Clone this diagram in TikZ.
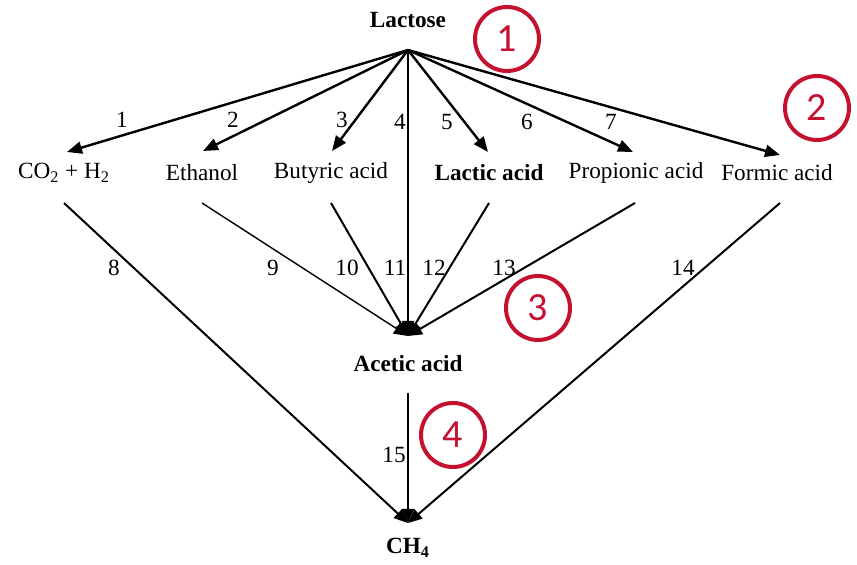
\documentclass[tikz,border=0pt]{standalone}
\usepackage{fontspec}
\setmainfont{Liberation Serif}
\newfontfamily\circfont{Carlito}
\usetikzlibrary{arrows.meta}
\definecolor{circred}{RGB}{197,17,48}
\begin{document}
\begin{tikzpicture}[x=0.5pt,y=-0.5pt,
  txt/.style={inner sep=0pt,font=\fontsize{11.6}{13}\selectfont},
  btxt/.style={inner sep=0pt,font=\fontsize{11.6}{13}\selectfont\bfseries},
  num/.style={inner sep=0pt,font=\fontsize{11.6}{13}\selectfont},
  arr/.style={line width=1.2pt,-{Triangle[length=7.5pt,width=6pt]}},
  arrb/.style={line width=1pt,-{Triangle[length=7pt,width=6pt]}},
  redcirc/.style={draw=circred,line width=2pt,circle,minimum size=32pt,inner sep=0pt,
    text=circred,font=\fontsize{20}{22}\selectfont\circfont}]
\useasboundingbox (0,0) rectangle (857,565);
% top
\node[btxt] (lactose) at (408,20) {Lactose};
\coordinate (apex) at (408,50);
% products
\node[txt] (co2) at (64,173) {CO\textsubscript{2} + H\textsubscript{2}};
\node[txt] (eth) at (202,173) {Ethanol};
\node[txt] (but) at (331,173) {Butyric acid};
\node[btxt] (lac) at (489,173) {Lactic acid};
\node[txt] (pro) at (636,173) {Propionic acid};
\node[txt] (for) at (777,173) {Formic acid};
\node[btxt] (ace) at (408,364) {Acetic acid};
\node[btxt] (ch4) at (408,548) {CH\textsubscript{4}};
% arrow tips
\coordinate (t1) at (67,152);
\coordinate (t2) at (203,151);
\coordinate (t3) at (332,151);
\coordinate (t5) at (488,152);
\coordinate (t6) at (633,152);
\coordinate (t7) at (780,155);
\coordinate (tace) at (408,336);
\coordinate (tch) at (408,523);
% line starts
\coordinate (s8) at (64,203);
\coordinate (s9) at (202,203);
\coordinate (s10) at (331,203);
\coordinate (s12) at (489,203);
\coordinate (s13) at (635,203);
\coordinate (s14) at (780,203);
\coordinate (s15) at (408,393);
% arrows from lactose
\draw[arr] (apex) -- (t1);
\draw[arr] (apex) -- (t2);
\draw[arr] (apex) -- (t3);
\draw[arr] (apex) -- (tace);
\draw[arr] (apex) -- (t5);
\draw[arr] (apex) -- (t6);
\draw[arr] (apex) -- (t7);
% to acetic acid
\draw[arrb,line width=0.7pt] (s9) -- (tace);
\draw[arrb] (s10) -- (tace);
\draw[arrb] (s12) -- (tace);
\draw[arrb] (s13) -- (tace);
% to methane
\draw[arrb] (s8) -- (tch);
\draw[arrb] (s14) -- (tch);
\draw[arrb] (s15) -- (tch);
% numbers
\node[num] (n1) at (122,120) {1};
\node[num] (n2) at (233,120) {2};
\node[num] (n3) at (342,120) {3};
\node[num] (n4) at (400,122) {4};
\node[num] (n5) at (447,122) {5};
\node[num] (n6) at (527,122) {6};
\node[num] (n7) at (611,122) {7};
\node[num] (n8) at (114,268) {8};
\node[num] (n9) at (273,268) {9};
\node[num] (n10) at (347,268) {10};
\node[num] (n11) at (395,268) {11};
\node[num] (n12) at (434,268) {12};
\node[num] (n13) at (504,268) {13};
\node[num] (n14) at (683,268) {14};
\node[num] (n15) at (394,455) {15};
% red circles
\node[redcirc] (c1) at (507,39) {1};
\node[redcirc] (c2) at (817,108) {2};
\node[redcirc] (c3) at (538,308) {3};
\node[redcirc] (c4) at (453,435) {4};
\end{tikzpicture}
\end{document}
